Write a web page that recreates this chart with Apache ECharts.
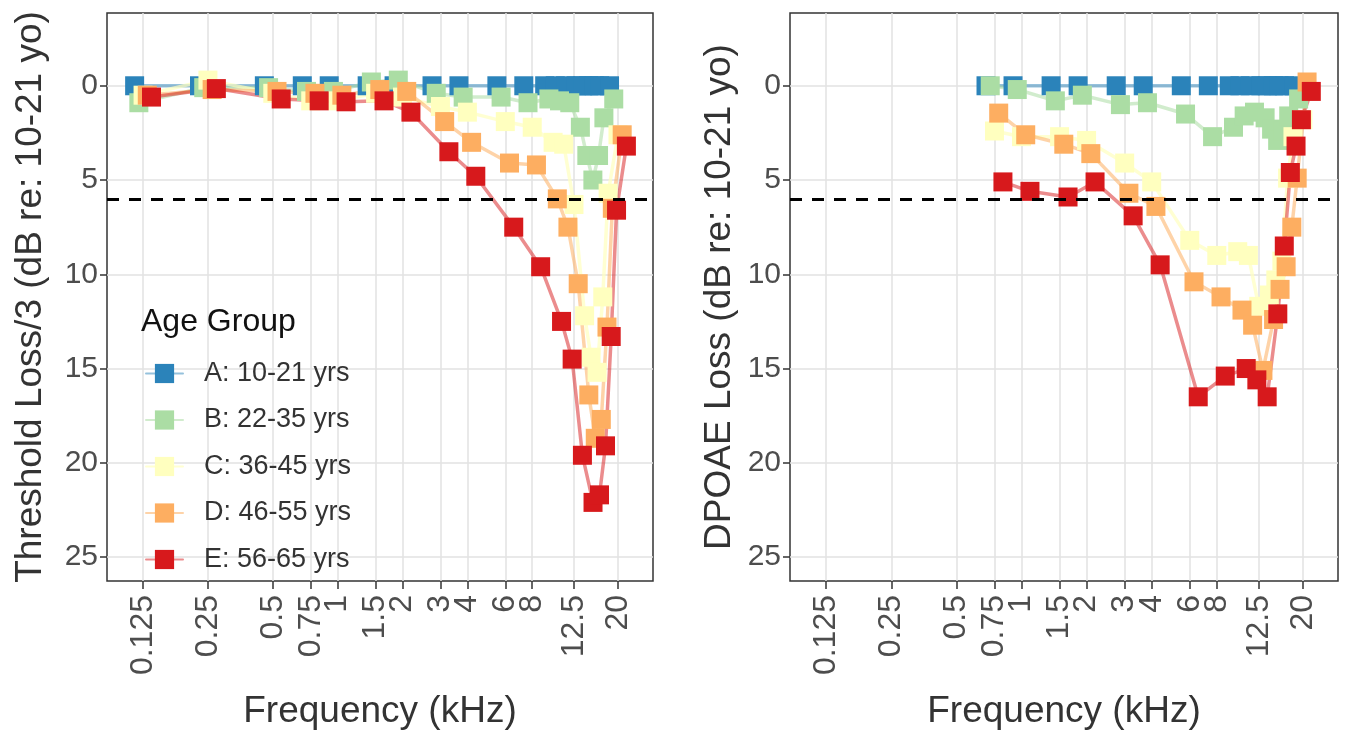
<!DOCTYPE html>
<html>
<head>
<meta charset="utf-8">
<title>Threshold and DPOAE loss by age group</title>
<script src="https://cdn.jsdelivr.net/npm/echarts@6/dist/echarts.min.js"></script>
<style>
  html, body { margin: 0; padding: 0; background: #ffffff; }
  #chart { width: 1346px; height: 735px; }
</style>
</head>
<body>
<div id="chart"></div>
<script>
// ---- data ----
const groups = ['A: 10-21 yrs', 'B: 22-35 yrs', 'C: 36-45 yrs', 'D: 46-55 yrs', 'E: 56-65 yrs'];

// frequency axis ticks (kHz)
const tickFreqs  = [0.125, 0.25, 0.5, 0.75, 1, 1.5, 2, 3, 4, 6, 8, 12.5, 20];
const tickLabels = ['0.125', '0.25', '0.5', '0.75', '1', '1.5', '2', '3', '4', '6', '8', '12.5', '20'];
const yTicks = [0, 5, 10, 15, 20, 25];

// left panel: behavioural threshold loss / 3 (dB re: 10-21 yo)
const thrFreqs = [0.125, 0.25, 0.5, 0.75, 1, 1.5, 2, 3, 4, 6, 8, 10, 11.2, 12.5, 14, 15, 16, 17, 18, 20];
const thrA = [0, 0, 0, 0, 0, 0, 0, 0, 0, 0, 0, 0, 0, 0, 0, 0, 0, 0, 0, 0];
const thrB = [0.9, 0.1, 0.1, 0.3, 0.3, -0.2, -0.3, 0.4, 0.6, 0.6, 0.9, 0.7, 0.8, 0.9, 2.2, 3.7, 5.0, 3.7, 1.7, 0.7];
const thrC = [0.5, -0.3, 0.4, 0.8, 0.8, 0.4, 0.6, 1.1, 1.4, 1.9, 2.2, 3.0, 3.1, 6.3, 12.2, 14.4, 15.2, 11.2, 5.7, 2.6];
const thrD = [0.5, 0.2, 0.3, 0.4, 0.5, 0.2, 0.3, 1.9, 3.0, 4.1, 4.2, 6.0, 7.5, 10.5, 16.4, 18.7, 17.7, 12.8, 6.5, 2.6];
const thrE = [0.6, 0.15, 0.7, 0.8, 0.85, 0.8, 1.4, 3.5, 4.8, 7.5, 9.6, 12.5, 14.5, 19.6, 22.1, 21.7, 19.1, 13.3, 6.6, 3.2];

// right panel: DPOAE loss (dB re: 10-21 yo)
const dpFreqs = [0.75, 1, 1.5, 2, 3, 4, 6, 8, 10, 11.2, 12.5, 14, 15, 16, 17, 18, 20];
const dpA = [0, 0, 0, 0, 0, 0, 0, 0, 0, 0, 0, 0, 0, 0, 0, 0, 0];
const dpB = [0.0, 0.2, 0.8, 0.5, 1.0, 0.9, 1.5, 2.7, 2.2, 1.6, 1.4, 1.7, 2.3, 2.9, 2.4, 1.6, 0.7];
const dpC = [2.4, 2.7, 2.7, 2.9, 4.1, 5.1, 8.2, 9.0, 8.8, 9.0, 11.7, 11.1, 10.3, 9.3, 4.9, 2.7, 1.8];
const dpD = [1.45, 2.6, 3.1, 3.6, 5.7, 6.4, 10.4, 11.2, 11.9, 12.7, 15.1, 12.4, 10.8, 9.6, 7.5, 4.9, -0.2];
const dpE = [5.1, 5.6, 5.9, 5.1, 6.9, 9.5, 16.5, 15.4, 15.0, 15.6, 16.5, 12.1, 8.5, 4.6, 3.2, 1.8, 0.3];

const criterion = 6;   // dashed reference level

// ---- styling ----
const FONT = '"Liberation Sans", Arial, Helvetica, sans-serif';
const colors = ['#2B83BA', '#ABDDA4', '#FFFFBF', '#FDAE61', '#D7191C'];
const lineColors = ['rgba(43,131,186,0.5)', 'rgba(171,221,164,0.55)', 'rgba(255,255,191,0.7)',
                    'rgba(253,174,97,0.55)', 'rgba(215,25,28,0.5)'];
const DODGE = 0.065;           // horizontal dodge between groups, in octaves
const X_MIN = -3.556, X_MAX = 4.862;   // log2(kHz)
const Y_MIN = -3.86, Y_MAX = 26.27;

const tickPos = tickFreqs.map(f => Math.log2(f));
function freqLabel(v) {
  let best = 0, d = Infinity;
  tickPos.forEach((p, i) => { const dd = Math.abs(p - v); if (dd < d) { d = dd; best = i; } });
  return tickLabels[best];
}

function xAxisFor(gridIndex) {
  return {
    type: 'value', gridIndex, min: X_MIN, max: X_MAX, position: 'bottom',
    name: 'Frequency (kHz)', nameLocation: 'middle', nameGap: 112,
    nameTextStyle: { fontFamily: FONT, fontSize: 37, color: '#333333' },
    axisLine: { show: false, onZero: false },
    axisTick: { show: true, length: 8, customValues: tickPos, lineStyle: { color: '#333333', width: 1.5 } },
    axisLabel: { customValues: tickPos, rotate: 90, margin: 14, fontFamily: FONT, fontSize: 32,
                 color: '#4d4d4d', formatter: freqLabel },
    splitLine: { show: true, lineStyle: { color: '#e2e2e2', width: 1.5 } }
  };
}

function yAxisFor(gridIndex, title, gap) {
  return {
    type: 'value', gridIndex, inverse: true, min: Y_MIN, max: Y_MAX, position: 'left',
    name: title, nameLocation: 'middle', nameRotate: 90, nameGap: gap,
    nameTextStyle: { fontFamily: FONT, fontSize: 37, color: '#333333' },
    axisLine: { show: false, onZero: false },
    axisTick: { show: true, length: 7, customValues: yTicks, lineStyle: { color: '#333333', width: 1.5 } },
    axisLabel: { customValues: yTicks, margin: 9, fontFamily: FONT, fontSize: 30, color: '#4d4d4d' },
    splitLine: { show: true, lineStyle: { color: '#e2e2e2', width: 1.5 } }
  };
}

function panelSeries(freqs, sets, idx) {
  const lines = [], points = [];
  sets.forEach((vals, i) => {
    const pts = freqs.map((f, k) => [Math.log2(f) + (i - 2) * DODGE, vals[k]]);
    const line = {
      type: 'line', name: groups[i], xAxisIndex: idx, yAxisIndex: idx,
      data: pts, symbol: 'rect', showSymbol: false, silent: true, z: 2,
      lineStyle: { color: lineColors[i], width: 3.5, cap: 'round', join: 'round' },
      itemStyle: { color: colors[i] }
    };
    if (i === 0) {
      line.markLine = {
        silent: true, symbol: ['none', 'none'], label: { show: false }, z: 4,
        lineStyle: { color: '#000000', width: 3, type: [12, 10] },
        data: [{ yAxis: criterion }]
      };
    }
    lines.push(line);
    points.push({
      type: 'scatter', name: groups[i], xAxisIndex: idx, yAxisIndex: idx,
      data: pts, symbol: 'rect', symbolSize: 19, silent: true, z: 3,
      itemStyle: { color: colors[i], opacity: 1 }
    });
  });
  return { lines, points };
}

const left = panelSeries(thrFreqs, [thrA, thrB, thrC, thrD, thrE], 0);
const right = panelSeries(dpFreqs, [dpA, dpB, dpC, dpD, dpE], 1);

const chart = echarts.init(document.getElementById('chart'), null, { renderer: 'canvas' });
chart.setOption({
  animation: false,
  backgroundColor: '#ffffff',
  textStyle: { fontFamily: FONT },
  title: {
    text: 'Age Group', left: 141, top: 306, padding: 0,
    textStyle: { fontFamily: FONT, fontSize: 32, fontWeight: 'normal', color: '#111111' }
  },
  legend: {
    data: groups, orient: 'vertical', left: 145, top: 360, padding: 0,
    itemWidth: 37, itemHeight: 24, itemGap: 19.5, selectedMode: false,
    textStyle: { fontFamily: FONT, fontSize: 27, color: '#333333', lineHeight: 24, padding: [0, 0, 0, 16] }
  },
  grid: [
    { left: 107, top: 13, width: 546, height: 570, show: true, borderColor: '#333333', borderWidth: 1.5, backgroundColor: 'transparent' },
    { left: 790, top: 13, width: 548, height: 570, show: true, borderColor: '#333333', borderWidth: 1.5, backgroundColor: 'transparent' }
  ],
  xAxis: [xAxisFor(0), xAxisFor(1)],
  yAxis: [yAxisFor(0, 'Threshold Loss/3 (dB re: 10-21 yo)', 58), yAxisFor(1, 'DPOAE Loss (dB re: 10-21 yo)', 52)],
  series: [...left.lines, ...right.lines, ...left.points, ...right.points]
});
</script>
</body>
</html>
